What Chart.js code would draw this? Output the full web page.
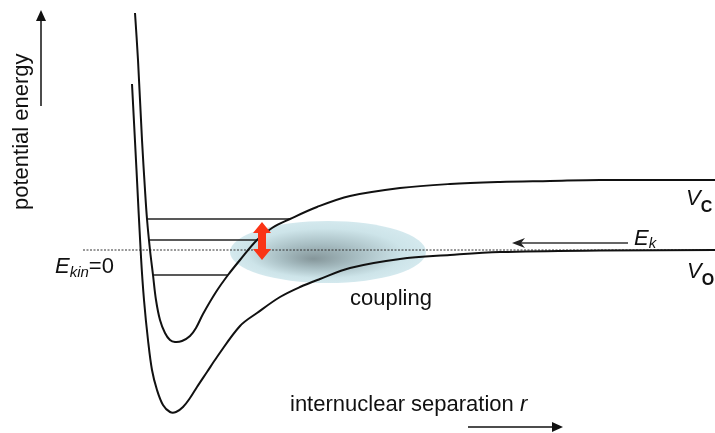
<!DOCTYPE html>
<html>
<head>
<meta charset="utf-8">
<script src="https://cdn.jsdelivr.net/npm/chart.js@4.4.0/dist/chart.umd.min.js"></script>
<style>
body { margin: 0; background: #fff; }
canvas { display: block; }
</style>
</head>
<body>
<canvas id="myChart" width="715" height="433"></canvas>
<script>
// r = internuclear separation, E = energy above the open-channel threshold (arb. units)
var rClosed = [135, 138, 142, 145, 147, 150, 153, 156, 160, 165, 170, 175, 182, 190, 196, 203, 216, 228, 240, 257, 272, 290, 317, 350, 400, 450, 500, 550, 600, 715];
var eClosed = [237, 190, 110, 60, 31, 0, -25, -50, -70, -83, -90, -92, -91, -86, -78, -64, -42, -25, -10, 10, 22, 31, 43, 54, 62, 66, 68, 69, 70, 70];

var rOpen = [132, 136.5, 141, 144, 148, 152, 157, 163, 170, 176, 183, 190, 197, 207, 217, 240, 257, 280, 300, 320, 350, 400, 450, 500, 600, 715];
var eOpen = [166, 80, -7, -50, -90, -120, -140, -155, -162, -162, -157, -148, -137, -122, -107, -76, -63, -47, -37, -29, -18, -9, -5, -2, -0.5, 0];

// bound states of the closed channel
var boundEnergies = [31, 10, -25];
var boundInner = [147, 149, 153];
var boundOuter = [290, 257, 228];

var threshold = 0;
var thresholdStart = 83;
var rMax = 715;

var labelFont = '"Liberation Sans", Arial, sans-serif';

function toPoints(xs, ys) {
    var pts = [];
    for (var i = 0; i < xs.length; i++) {
        pts.push({x: xs[i], y: ys[i]});
    }
    return pts;
}

function drawParts(ctx, parts, x, y) {
    for (var i = 0; i < parts.length; i++) {
        var p = parts[i];
        ctx.font = p.font;
        ctx.fillText(p.text, x, y + (p.dy || 0));
        x += ctx.measureText(p.text).width;
    }
}

var datasets = [];

datasets.push({
    data: toPoints(rClosed, eClosed),
    borderColor: '#111',
    borderWidth: 2,
    tension: 0.35
});
datasets.push({
    data: toPoints(rOpen, eOpen),
    borderColor: '#111',
    borderWidth: 2,
    tension: 0.35
});

for (var i = 0; i < boundEnergies.length; i++) {
    datasets.push({
        data: [{x: boundInner[i], y: boundEnergies[i]}, {x: boundOuter[i], y: boundEnergies[i]}],
        borderColor: '#222',
        borderWidth: 1.3
    });
}

// Ekin = 0 threshold
datasets.push({
    data: [{x: thresholdStart, y: threshold}, {x: rMax, y: threshold}],
    borderColor: '#333',
    borderWidth: 1,
    borderDash: [2, 1.5]
});

var couplingPlugin = {
    id: 'coupling',
    beforeDatasetsDraw: function(chart) {
        var ctx = chart.ctx;
        var xs = chart.scales.x, ys = chart.scales.y;
        var cx = xs.getPixelForValue(328), cy = ys.getPixelForValue(-2);
        var rx = 98, ry = 31;
        ctx.save();
        ctx.translate(cx, cy);
        ctx.scale(1, ry / rx);
        var g = ctx.createRadialGradient(-15, 22, 0, 0, 0, rx);
        g.addColorStop(0, 'rgb(133,150,154)');
        g.addColorStop(0.4, 'rgb(168,190,195)');
        g.addColorStop(0.8, 'rgb(205,228,233)');
        g.addColorStop(1, 'rgb(212,233,238)');
        ctx.fillStyle = g;
        ctx.beginPath();
        ctx.arc(0, 0, rx, 0, Math.PI * 2);
        ctx.fill();
        ctx.restore();
    },
    afterDatasetsDraw: function(chart) {
        var ctx = chart.ctx;
        var xs = chart.scales.x, ys = chart.scales.y;
        ctx.save();

        // red double arrow between bound state and threshold
        var ax = xs.getPixelForValue(262);
        var top = ys.getPixelForValue(28), bot = ys.getPixelForValue(-10);
        ctx.fillStyle = '#fa3416';
        ctx.beginPath();
        ctx.moveTo(ax, top);
        ctx.lineTo(ax + 9, top + 11);
        ctx.lineTo(ax + 4, top + 11);
        ctx.lineTo(ax + 4, bot - 11);
        ctx.lineTo(ax + 9, bot - 11);
        ctx.lineTo(ax, bot);
        ctx.lineTo(ax - 9, bot - 11);
        ctx.lineTo(ax - 4, bot - 11);
        ctx.lineTo(ax - 4, top + 11);
        ctx.lineTo(ax - 9, top + 11);
        ctx.closePath();
        ctx.fill();

        // incoming kinetic energy arrow
        var ey = ys.getPixelForValue(7);
        var ex0 = xs.getPixelForValue(628), ex1 = xs.getPixelForValue(512);
        ctx.strokeStyle = '#333';
        ctx.lineWidth = 1.5;
        ctx.beginPath();
        ctx.moveTo(ex0, ey);
        ctx.lineTo(ex1 + 8, ey);
        ctx.stroke();
        ctx.fillStyle = '#222';
        ctx.beginPath();
        ctx.moveTo(ex1, ey);
        ctx.lineTo(ex1 + 13, ey - 5);
        ctx.lineTo(ex1 + 9, ey);
        ctx.lineTo(ex1 + 13, ey + 5);
        ctx.closePath();
        ctx.fill();

        // axis arrows
        ctx.strokeStyle = '#111';
        ctx.fillStyle = '#111';
        ctx.lineWidth = 1.5;
        ctx.beginPath();
        ctx.moveTo(41, 106);
        ctx.lineTo(41, 20);
        ctx.stroke();
        ctx.beginPath();
        ctx.moveTo(41, 10);
        ctx.lineTo(46, 21);
        ctx.lineTo(36, 21);
        ctx.closePath();
        ctx.fill();

        ctx.beginPath();
        ctx.moveTo(468, 427);
        ctx.lineTo(554, 427);
        ctx.stroke();
        ctx.beginPath();
        ctx.moveTo(563, 427);
        ctx.lineTo(552, 422);
        ctx.lineTo(552, 432);
        ctx.closePath();
        ctx.fill();

        // labels
        ctx.fillStyle = '#111';
        ctx.textBaseline = 'alphabetic';
        ctx.textAlign = 'left';

        ctx.font = '22px ' + labelFont;
        ctx.fillText('coupling', 350, 305);

        drawParts(ctx, [
            {text: 'internuclear separation ', font: '22px ' + labelFont},
            {text: 'r', font: 'italic 22px ' + labelFont}
        ], 290, 411);

        drawParts(ctx, [
            {text: 'E', font: 'italic 22px ' + labelFont},
            {text: 'kin', font: 'italic 15px ' + labelFont, dy: 4},
            {text: '=0', font: '22px ' + labelFont}
        ], 55, 273);

        drawParts(ctx, [
            {text: 'E', font: 'italic 22px ' + labelFont},
            {text: 'k', font: 'italic 15px ' + labelFont, dy: 3}
        ], 634, 245);

        drawParts(ctx, [
            {text: 'V', font: 'italic 22px ' + labelFont},
            {text: 'C', font: 'bold 16px ' + labelFont, dy: 7}
        ], 686, 205);

        drawParts(ctx, [
            {text: 'V', font: 'italic 22px ' + labelFont},
            {text: 'O', font: 'bold 16px ' + labelFont, dy: 7}
        ], 687, 278);

        ctx.translate(28, 210);
        ctx.rotate(-Math.PI / 2);
        ctx.font = '22px ' + labelFont;
        ctx.fillText('potential energy', 0, 0);

        ctx.restore();
    }
};

var ctx = document.getElementById('myChart');
var chart = new Chart(ctx, {
    type: 'scatter',
    data: {datasets: datasets},
    options: {
        responsive: false,
        animation: false,
        showLine: true,
        layout: {padding: 0},
        elements: {point: {radius: 0}},
        plugins: {legend: {display: false}, tooltip: {enabled: false}},
        scales: {
            x: {type: 'linear', display: false, min: 0, max: 715},
            y: {type: 'linear', display: false, min: -183, max: 250}
        }
    },
    plugins: [couplingPlugin]
});
</script>
</body>
</html>
